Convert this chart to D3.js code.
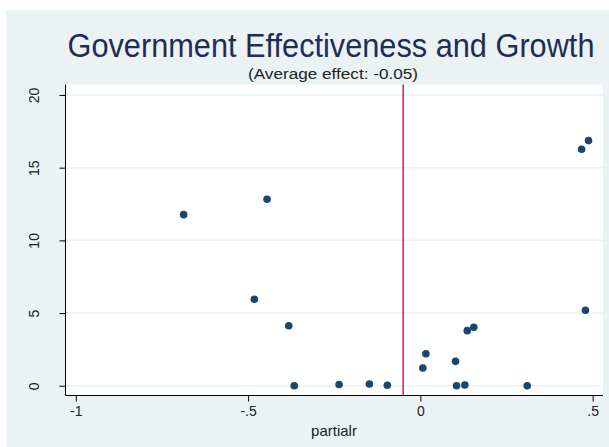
<!DOCTYPE html>
<html>
<head>
<meta charset="utf-8">
<script src="https://cdn.jsdelivr.net/npm/d3@7"></script>
<style>
  body { margin: 0; background: #fff; }
  svg { display: block; font-family: "Liberation Sans", Arial, sans-serif; }
</style>
</head>
<body>
<svg id="chart" width="609" height="447"></svg>
<script>
// Data.
const partialR = [-0.687, -0.445, -0.482, -0.382, -0.366, -0.236, -0.148, -0.096,
  0.007, 0.016, 0.102, 0.105, 0.129, 0.136, 0.155, 0.310, 0.468, 0.488, 0.479];
const growth = [11.77, 12.83, 5.95, 4.13, 0.0, 0.09, 0.12, 0.03,
  1.22, 2.2, 1.68, 0.0, 0.05, 3.79, 4.02, 0.0, 16.27, 16.86, 5.19];
const averageEffect = -0.05;
const xTicks = [-1, -0.5, 0, 0.5];
const xTickLabels = ['-1', '-.5', '0', '.5'];
const yTicks = [0, 5, 10, 15, 20];

const titleText = 'Government Effectiveness and Growth';
const subtitleText = `(Average effect: ${averageEffect.toFixed(2)})`;
const xLabel = 'partialr';

const svg = d3.select('#chart');
const plot = { left: 65.5, right: 603, top: 84.5, bottom: 395.5 };

// Outer (graph region) background.
svg.append('rect')
  .attr('x', 6).attr('y', 10).attr('width', 603).attr('height', 437)
  .attr('fill', '#eaf2f3');

// Plot region.
svg.append('rect')
  .attr('x', plot.left).attr('y', plot.top)
  .attr('width', plot.right - plot.left).attr('height', plot.bottom - plot.top)
  .attr('fill', '#fff');

const x = d3.scaleLinear().domain([-1.03, 0.53]).range([plot.left, plot.right]);
const y = d3.scaleLinear().domain([-0.67, 20.72]).range([plot.bottom, plot.top]);

// Grid lines.
svg.append('g')
  .selectAll('line')
  .data(yTicks)
  .join('line')
  .attr('x1', plot.left).attr('x2', plot.right)
  .attr('y1', d => y(d)).attr('y2', d => y(d))
  .attr('stroke', '#eaf2f3').attr('stroke-width', 1.5);

// Average effect line.
svg.append('line')
  .attr('x1', x(averageEffect)).attr('x2', x(averageEffect))
  .attr('y1', plot.top).attr('y2', plot.bottom)
  .attr('stroke', '#c10534').attr('stroke-width', 1.3);

// Points.
const points = partialR.map((v, i) => ({ x: v, y: growth[i] }));
svg.append('g')
  .selectAll('circle')
  .data(points)
  .join('circle')
  .attr('cx', d => x(d.x))
  .attr('cy', d => y(d.y))
  .attr('r', 3.8)
  .attr('fill', '#1a476f');

// Axes.
const yAxis = svg.append('g')
  .attr('transform', `translate(${plot.left},0)`)
  .call(d3.axisLeft(y).tickValues(yTicks).tickSize(6).tickFormat(d3.format('d')));
yAxis.selectAll('text')
  .attr('x', 0).attr('y', 0)
  .attr('transform', 'translate(-31,0) rotate(-90)')
  .attr('dy', '0.35em')
  .attr('text-anchor', 'middle')
  .attr('font-size', 14).attr('fill', '#222');

const xAxis = svg.append('g')
  .attr('transform', `translate(0,${plot.bottom})`)
  .call(d3.axisBottom(x).tickValues(xTicks).tickSize(6).tickPadding(5)
    .tickFormat((d, i) => xTickLabels[i]));
xAxis.selectAll('text').attr('font-size', 14).attr('fill', '#222');

yAxis.select('.domain').attr('stroke', '#000').attr('d', `M0,${plot.top}V${plot.bottom}`);
xAxis.select('.domain').attr('stroke', '#000').attr('d', `M${plot.left},0H${plot.right}`);
svg.selectAll('.tick line').attr('stroke', '#000');

// Titles.
svg.append('text')
  .attr('x', 331).attr('y', 57)
  .attr('text-anchor', 'middle')
  .attr('font-size', 33).attr('fill', '#1e2d53')
  .attr('textLength', 527).attr('lengthAdjust', 'spacingAndGlyphs')
  .text(titleText);

svg.append('text')
  .attr('x', 333).attr('y', 79)
  .attr('text-anchor', 'middle')
  .attr('font-size', 15.5).attr('fill', '#222')
  .attr('textLength', 170).attr('lengthAdjust', 'spacingAndGlyphs')
  .text(subtitleText);

svg.append('text')
  .attr('x', 334).attr('y', 436)
  .attr('text-anchor', 'middle')
  .attr('font-size', 15).attr('fill', '#222')
  .text(xLabel);
</script>
</body>
</html>
